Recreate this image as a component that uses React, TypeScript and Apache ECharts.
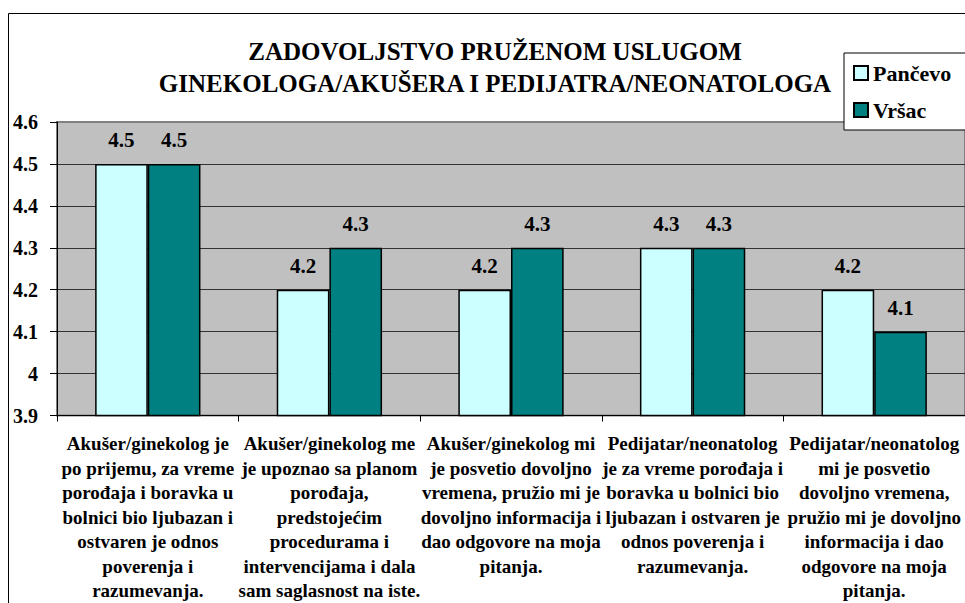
import React, { useEffect, useRef } from "react";
import * as echarts from "echarts";

const titleLines = [
  "ZADOVOLJSTVO PRUŽENOM USLUGOM",
  "GINEKOLOGA/AKUŠERA I PEDIJATRA/NEONATOLOGA",
];

const categories = [
  "Akušer/ginekolog je\npo prijemu, za vreme\nporođaja i boravka u\nbolnici bio ljubazan i\nostvaren je odnos\npoverenja i\nrazumevanja.",
  "Akušer/ginekolog me\nje upoznao sa planom\nporođaja,\npredstojećim\nprocedurama i\nintervencijama i dala\nsam saglasnost na iste.",
  "Akušer/ginekolog mi\nje posvetio dovoljno\nvremena, pružio mi je\ndovoljno informacija i\ndao odgovore na moja\npitanja.",
  "Pedijatar/neonatolog\nje za vreme porođaja i\nboravka u bolnici bio\nljubazan i ostvaren je\nodnos poverenja i\nrazumevanja.",
  "Pedijatar/neonatolog\nmi je posvetio\ndovoljno vremena,\npružio mi je dovoljno\ninformacija i dao\nodgovore na moja\npitanja.",
];

const seriesNames = ["Pančevo", "Vršac"];
const pancevo = [4.5, 4.2, 4.2, 4.3, 4.2];
const vrsac = [4.5, 4.3, 4.3, 4.3, 4.1];

const yMin = 3.9;
const yMax = 4.6;
const yStep = 0.1;

const FONT = "Liberation Serif";

export default function App() {
  const ref = useRef<HTMLDivElement>(null);

  useEffect(() => {
    if (!ref.current) return;
    const chart = echarts.init(ref.current, undefined, { renderer: "svg" });
    const labelCfg = {
      show: true,
      position: "top",
      distance: 13,
      fontFamily: FONT,
      fontWeight: "bold",
      fontSize: 21,
      color: "#000",
      formatter: (p: any) => String(p.value),
    };
    chart.setOption({
      animation: false,
      backgroundColor: "#fff",
      title: {
        text: titleLines.join("\n"),
        left: 490,
        top: 30,
        textAlign: "center",
        textStyle: {
          fontFamily: FONT,
          fontWeight: "bold",
          fontSize: 25,
          lineHeight: 32,
          color: "#000",
        },
      },
      legend: {
        orient: "vertical",
        left: 844,
        top: 53,
        padding: [9, 16, 9, 9],
        itemWidth: 14,
        itemHeight: 14,
        itemGap: 15,
        backgroundColor: "#fff",
        borderColor: "#000",
        borderWidth: 1,
        icon: "rect",
        textStyle: {
          fontFamily: FONT,
          fontWeight: "bold",
          fontSize: 22,
          color: "#000",
        },
        data: seriesNames,
      },
      graphic: [
        {
          type: "rect",
          shape: { x: 8.5, y: 13.5, width: 1000, height: 700 },
          style: { fill: "none", stroke: "#000", lineWidth: 1 },
          z: 100,
          silent: true,
        },
      ],
      grid: {
        left: 57,
        top: 122,
        width: 912,
        height: 294,
        show: true,
        backgroundColor: "#C0C0C0",
        borderColor: "#808080",
        borderWidth: 2,
      },
      xAxis: {
        type: "category",
        data: categories,
        axisLine: { show: true, lineStyle: { color: "#000", width: 1 } },
        axisTick: { show: true, length: 6, lineStyle: { color: "#000" } },
        axisLabel: {
          interval: 0,
          margin: 16,
          fontFamily: FONT,
          fontWeight: "bold",
          fontSize: 19,
          lineHeight: 24.5,
          color: "#000",
          align: "center",
        },
      },
      yAxis: {
        type: "value",
        min: yMin,
        max: yMax,
        interval: yStep,
        axisLine: { show: true, lineStyle: { color: "#000", width: 1 } },
        axisTick: { show: true, length: 7, lineStyle: { color: "#000" } },
        axisLabel: {
          margin: 19,
          fontFamily: FONT,
          fontWeight: "bold",
          fontSize: 20,
          color: "#000",
          formatter: (v: number) => String(+v.toFixed(1)),
        },
        splitLine: {
          show: true,
          showMaxLine: false,
          lineStyle: { color: "#333", width: 1 },
        },
      },
      series: [
        {
          name: seriesNames[0],
          type: "bar",
          data: pancevo,
          barGap: "0%",
          barCategoryGap: "42%",
          itemStyle: { color: "#CCFFFF", borderColor: "#000", borderWidth: 1.5 },
          label: labelCfg,
        },
        {
          name: seriesNames[1],
          type: "bar",
          data: vrsac,
          barGap: "0%",
          barCategoryGap: "42%",
          itemStyle: { color: "#008080", borderColor: "#000", borderWidth: 1.5 },
          label: labelCfg,
        },
      ],
    });
    return () => chart.dispose();
  }, []);

  return (
    <div
      ref={ref}
      style={{ position: "fixed", left: 0, top: 0, width: 965, height: 603 }}
    />
  );
}
